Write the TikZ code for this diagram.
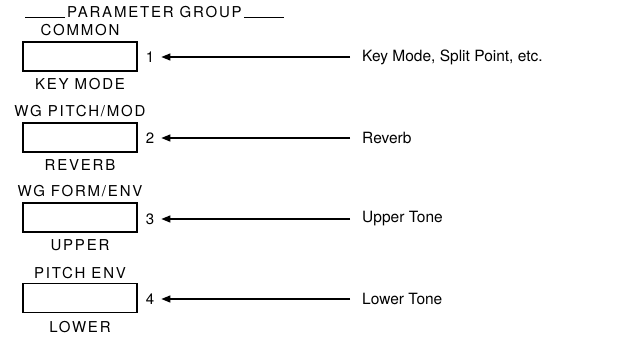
\documentclass[tikz,border=0pt]{standalone}
\usepackage{fontspec}
\setmainfont{TeX Gyre Heros}
\newfontfamily\capsfont[LetterSpace=12]{TeX Gyre Heros}
\usetikzlibrary{positioning,arrows.meta}

\begin{document}
\begin{tikzpicture}[x=1pt,y=1pt]
\tikzstyle{every node}+=[inner sep=0pt]
\tikzstyle{keybox}=[draw,line width=1.7pt,minimum width=114pt,minimum height=29pt]
\tikzstyle{paneltext}=[font=\capsfont\fontsize{15}{17}\selectfont,text height=10.8pt,text depth=0pt]
\tikzstyle{num}=[font=\fontsize{15}{17}\selectfont,text height=10.8pt,text depth=0pt]
\tikzstyle{desc}=[font=\fontsize{15.5}{18}\selectfont,anchor=west,inner xsep=12pt]
\tikzstyle{feed}=[line width=1.3pt,-{Triangle[length=9pt,width=7pt]},shorten >=7pt]
\useasboundingbox (0,0) rectangle (620,-337);
\node [paneltext,anchor=west] (group) at (67,-12) {PARAMETER GROUP};
\draw [line width=1.2pt] ([xshift=-2pt]group.south west) -- ++(-40,0);
\draw [line width=1.2pt] ([xshift=2pt]group.south east) -- ++(40,0);
\node [keybox] (button1) at (80,-56.5) {};
\node [paneltext,above=5pt of button1] (top1) {COMMON};
\node [paneltext,below=7pt of button1] (bot1) {KEY MODE};
\node [keybox] (button2) at (80,-137.5) {};
\node [paneltext,above=5pt of button2] (top2) {WG PITCH/MOD};
\node [paneltext,below=7pt of button2] (bot2) {REVERB};
\node [keybox] (button3) at (80,-217.5) {};
\node [paneltext,above=5pt of button3] (top3) {WG FORM/ENV};
\node [paneltext,below=7pt of button3] (bot3) {UPPER};
\node [keybox] (button4) at (80,-298) {};
\node [paneltext,above=4pt of button4] (top4) {PITCH ENV};
\node [paneltext,below=8pt of button4] (bot4) {LOWER};
\node [num] (num1) at (150,-57) {1};
\node [num] (num2) at (150,-138) {2};
\node [num] (num3) at (150,-219) {3};
\node [num] (num4) at (150,-299) {4};
\node [desc] (desc1) at (350,-57) {Key Mode, Split Point, etc.};
\node [desc] (desc2) at (350,-138) {Reverb};
\node [desc] (desc3) at (350,-219) {Upper Tone};
\node [desc] (desc4) at (350,-299) {Lower Tone};
\draw [feed] (desc1.west) -- (num1.east);
\draw [feed] (desc2.west) -- (num2.east);
\draw [feed] (desc3.west) -- (num3.east);
\draw [feed] (desc4.west) -- (num4.east);
\end{tikzpicture}
\end{document}
